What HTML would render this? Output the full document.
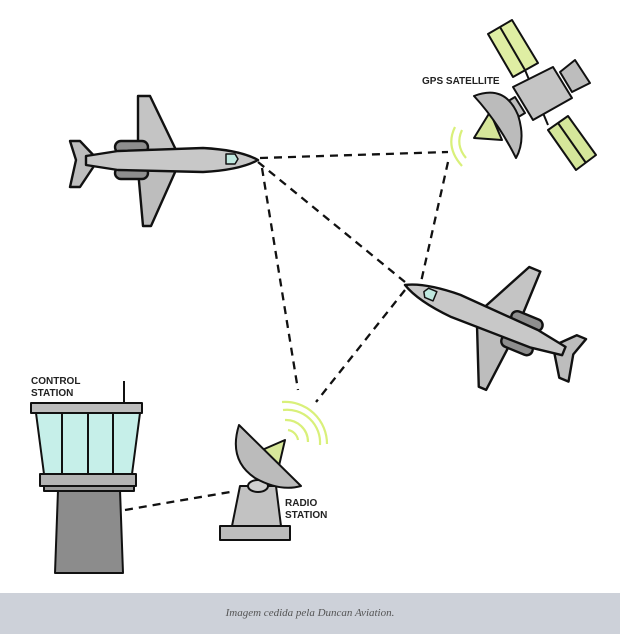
<!DOCTYPE html>
<html><head><meta charset="utf-8"><style>
html,body{margin:0;padding:0;background:#fff;width:620px;height:634px;overflow:hidden}
.cap{position:absolute;left:0;top:593px;width:620px;height:41px;background:#cdd1d9;font-family:"Liberation Serif",serif;font-style:italic;font-size:11px;color:#555;text-align:center;line-height:41px}
</style></head><body>
<svg width="620" height="593" viewBox="0 0 620 593" style="position:absolute;left:0;top:0" font-family="Liberation Sans, sans-serif">
<defs>
<g id="plane" stroke="#111" stroke-width="2.4" stroke-linejoin="round">
  <polygon points="-120,-10 -120,-64 -108,-64 -82,-10" fill="#c4c4c4"/>
  <polygon points="-120,10 -115,66 -107,66 -82,10" fill="#bdbdbd"/>
  <rect x="-143" y="-19" width="33" height="12" rx="6" fill="#8e8e8e"/>
  <rect x="-143" y="7" width="33" height="12" rx="6" fill="#8e8e8e"/>
  <polygon points="-160,0 -178,-19 -188,-19 -182,0 -188,27 -178,27" fill="#bdbdbd"/>
  <path d="M0,0 Q-18,-10 -55,-12 L-140,-9 L-172,-4 L-172,5 L-140,10 L-55,12 Q-18,10 0,0 Z" fill="#c8c8c8"/>
  <path d="M-32,-6 L-23,-6 L-20,-1 L-23,4 L-32,4 Z" fill="#bfe8df" stroke-width="1.5"/>
</g>
</defs>
<g stroke="#111" stroke-width="2.3" stroke-dasharray="8,6" fill="none">
<line x1="260" y1="158" x2="448" y2="152"/>
<line x1="448" y1="162" x2="421" y2="282"/>
<line x1="258" y1="162" x2="405" y2="282"/>
<line x1="262" y1="168" x2="298" y2="390"/>
<line x1="405" y1="290" x2="316" y2="402"/>
<line x1="125" y1="510" x2="230" y2="492"/>
</g>
<use href="#plane" transform="translate(258,160)"/>
<use href="#plane" transform="translate(405,285) rotate(202.4) scale(1,-1)"/>
<g stroke="#111" stroke-width="2" stroke-linejoin="round">
  <polygon points="488,34 512,20 538,63 513,77" fill="#dfeea3"/>
  <line x1="500" y1="27" x2="525" y2="70"/>
  <polygon points="548,130 568,116 596,155 576,170" fill="#d5e69a"/>
  <line x1="558" y1="123" x2="586" y2="163"/>
  <line x1="525" y1="70" x2="548" y2="125"/>
  <polygon points="560,72 575,60 590,83 572,92" fill="#bdbdbd"/>
  <polygon points="513,87 553,67 572,98 533,120" fill="#c4c4c4"/>
  <polygon points="505,103 515,97 525,113 515,119" fill="#bdbdbd"/>
  <polygon points="474,138 490,112 502,140" fill="#d6e69a"/>
  <path d="M474,96 Q505,84 518,115 Q526,140 516,158 Q498,122 474,96 Z" fill="#bbbbbb"/>
</g>
<g stroke="#d9f07a" stroke-width="2.2" fill="none">
<path d="M462,130 Q455,145 466,158"/>
<path d="M455,127 Q445,147 462,166"/>
</g>
<text x="422" y="84" font-size="10" font-weight="bold" fill="#222">GPS SATELLITE</text>
<g stroke="#111" stroke-width="2" stroke-linejoin="round">
  <line x1="124" y1="381" x2="124" y2="403"/>
  <polygon points="58,490 120,490 123,573 55,573" fill="#8c8c8c"/>
  <rect x="44" y="485" width="90" height="6" fill="#9a9a9a"/>
  <rect x="40" y="474" width="96" height="12" fill="#b3b3b3"/>
  <polygon points="36,413 140,413 132,474 44,474" fill="#c6efe9"/>
  <line x1="62" y1="413" x2="62" y2="474"/>
  <line x1="88" y1="413" x2="88" y2="474"/>
  <line x1="113" y1="413" x2="113" y2="474"/>
  <rect x="31" y="403" width="111" height="10" fill="#bdbdbd"/>
</g>
<text x="31" y="384" font-size="10" font-weight="bold" fill="#222">CONTROL</text>
<text x="31" y="396" font-size="10" font-weight="bold" fill="#222">STATION</text>
<g stroke="#111" stroke-width="2" stroke-linejoin="round">
  <rect x="220" y="526" width="70" height="14" fill="#bdbdbd"/>
  <polygon points="240,486 276,486 281,526 232,526" fill="#c2c2c2"/>
  <ellipse cx="258" cy="486" rx="10" ry="6" fill="#d0d0d0"/>
  <polygon points="285,440 262,450 278,470" fill="#d8e89a"/>
  <path d="M239,425 Q228,460 255,478 Q280,492 301,486 Z" fill="#bbbbbb"/>
</g>
<g stroke="#d9f07a" stroke-width="2.2" fill="none">
<path d="M288,430 A12,12 0 0 1 298,440"/>
<path d="M285,420 A22,22 0 0 1 308,442"/>
<path d="M283,410 A33,33 0 0 1 320,445"/>
<path d="M282,402 A42,42 0 0 1 327,444"/>
</g>
<text x="285" y="506" font-size="10" font-weight="bold" fill="#222">RADIO</text>
<text x="285" y="518" font-size="10" font-weight="bold" fill="#222">STATION</text>
</svg>
<div class="cap">Imagem cedida pela Duncan Aviation.</div>
</body></html>
